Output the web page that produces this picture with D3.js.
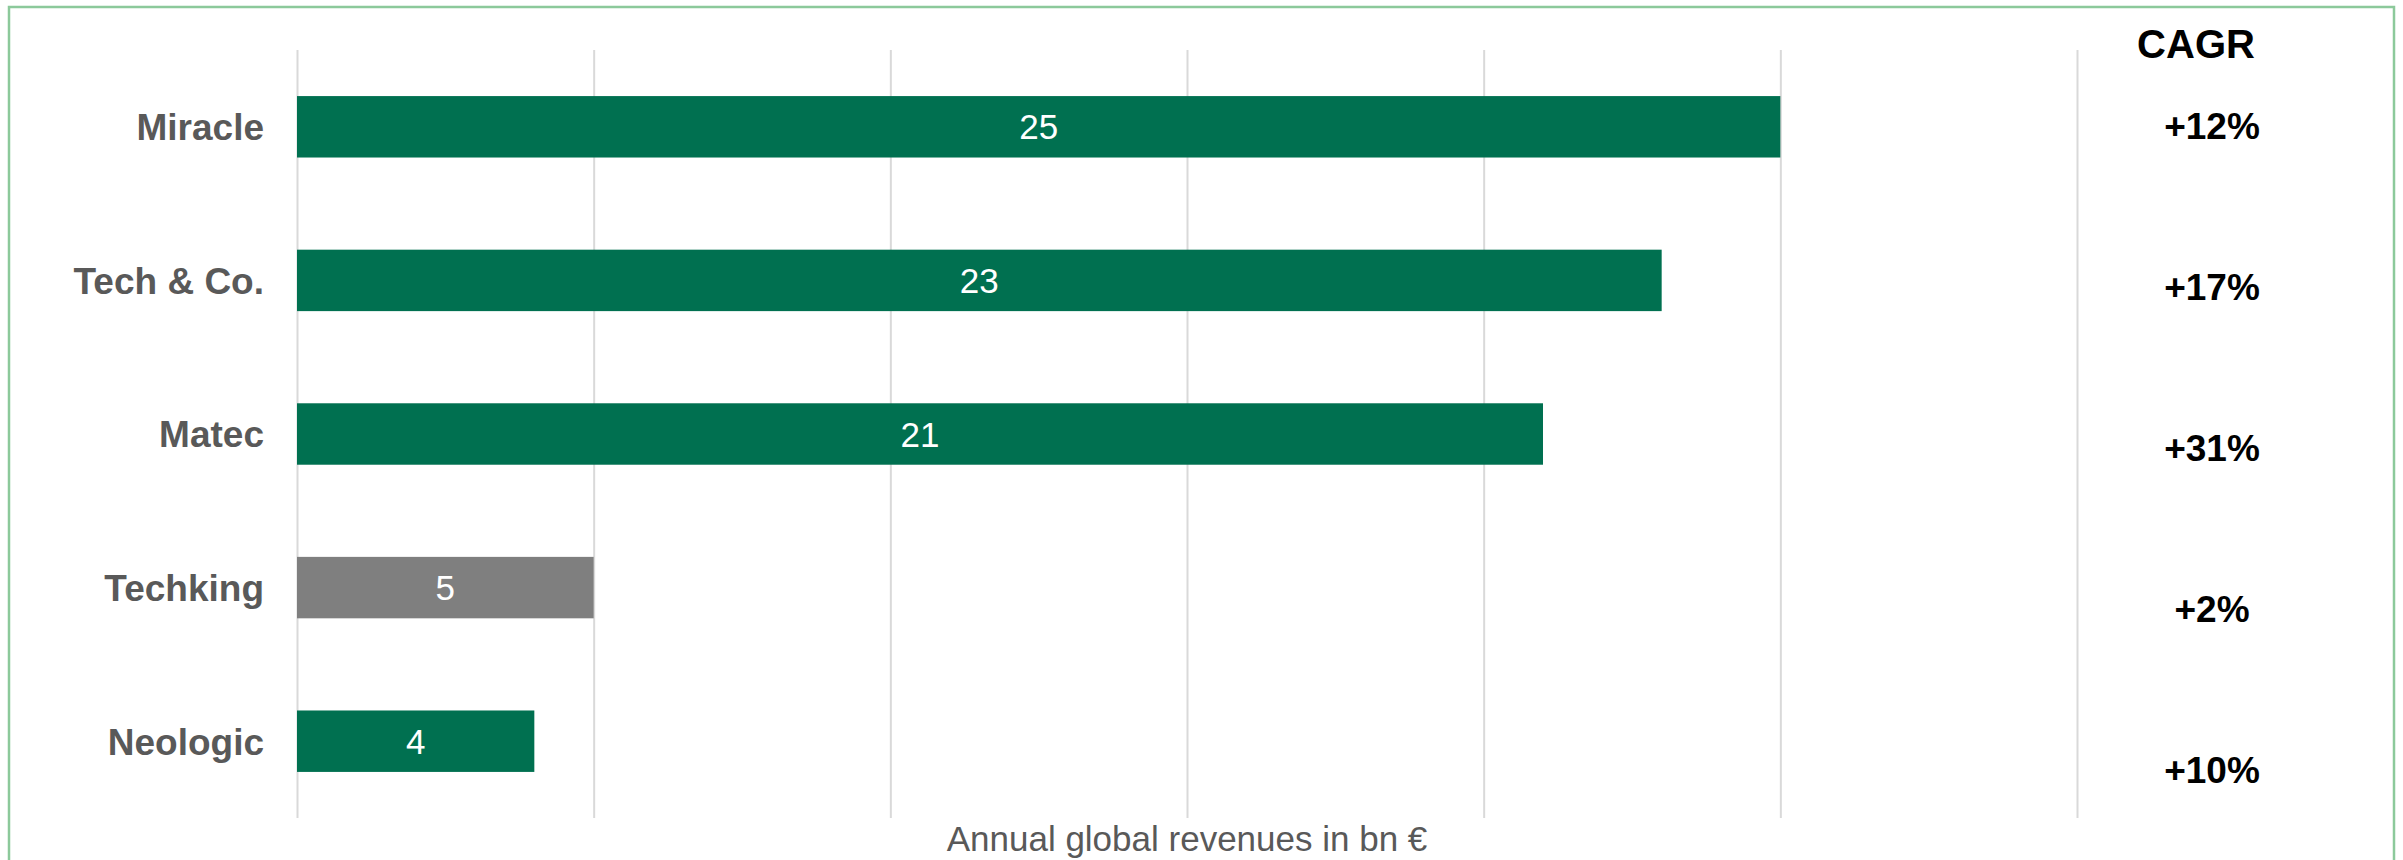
<!DOCTYPE html>
<html>
<head>
<meta charset="utf-8">
<script src="https://cdn.jsdelivr.net/npm/d3@7"></script>
<style>
  html, body { margin: 0; padding: 0; background: #ffffff; }
  svg { display: block; font-family: "Liberation Sans", Arial, Helvetica, sans-serif; }
</style>
</head>
<body>
<svg id="chart" width="2403" height="860"></svg>
<script>
// ---- data ----
const categories = ["Miracle", "Tech & Co.", "Matec", "Techking", "Neologic"];
const revenues = [25, 23, 21, 5, 4];
const cagrLabels = ["+12%", "+17%", "+31%", "+2%", "+10%"];
const highlight = [false, false, false, true, false];
const xTicks = [0, 5, 10, 15, 20, 25, 30];
const axisTitle = "Annual global revenues in bn €";
const cagrTitle = "CAGR";

// ---- layout ----
const svg = d3.select("#chart");

// frame
svg.append("rect")
  .attr("x", 9).attr("y", 7)
  .attr("width", 2385).attr("height", 880)
  .attr("fill", "none")
  .attr("stroke", "#8cc99b")
  .attr("stroke-width", 2.5);

const x = d3.scaleLinear().domain([0, 30]).range([297, 2077]);
const y = d3.scaleBand().domain(categories).range([50, 818])
  .paddingInner(0.6).paddingOuter(0.3);
const yCagr = d3.scalePoint().domain(categories).range([126, 770]);

// gridlines via axis
const gAxis = svg.append("g")
  .attr("transform", "translate(0,818)")
  .call(d3.axisBottom(x).tickValues(xTicks).tickSize(-768).tickFormat(""));
gAxis.select(".domain").remove();
gAxis.selectAll(".tick line")
  .attr("stroke", "#d9d9d9")
  .attr("stroke-width", 2);

// bars
svg.append("g").selectAll("rect")
  .data(categories)
  .join("rect")
  .attr("x", x(0))
  .attr("y", d => y(d))
  .attr("width", (d, i) => x(revenues[i]) - x(0))
  .attr("height", y.bandwidth())
  .attr("fill", (d, i) => highlight[i] ? "#7f7f7f" : "#007050");

// value labels
svg.append("g").selectAll("text")
  .data(categories)
  .join("text")
  .attr("x", (d, i) => (x(0) + x(revenues[i])) / 2)
  .attr("y", d => y(d) + y.bandwidth() / 2)
  .attr("dy", "0.36em")
  .attr("text-anchor", "middle")
  .attr("fill", "#ffffff")
  .style("font-size", "35px")
  .text((d, i) => revenues[i]);

// category labels
svg.append("g").selectAll("text")
  .data(categories)
  .join("text")
  .attr("x", 264)
  .attr("y", d => y(d) + y.bandwidth() / 2)
  .attr("dy", "0.36em")
  .attr("text-anchor", "end")
  .attr("fill", "#595959")
  .style("font-size", "37px")
  .style("font-weight", "bold")
  .text(d => d);

// CAGR header
svg.append("text")
  .attr("x", 2196).attr("y", 57.5)
  .attr("text-anchor", "middle")
  .attr("fill", "#000000")
  .style("font-size", "40px")
  .style("font-weight", "bold")
  .text(cagrTitle);

// CAGR values
svg.append("g").selectAll("text")
  .data(categories)
  .join("text")
  .attr("x", 2212)
  .attr("y", d => yCagr(d))
  .attr("dy", "0.36em")
  .attr("text-anchor", "middle")
  .attr("fill", "#000000")
  .style("font-size", "37px")
  .style("font-weight", "bold")
  .text((d, i) => cagrLabels[i]);

// axis title
svg.append("text")
  .attr("x", (x.range()[0] + x.range()[1]) / 2).attr("y", 851)
  .attr("text-anchor", "middle")
  .attr("fill", "#595959")
  .style("font-size", "35px")
  .text(axisTitle);
</script>
</body>
</html>
